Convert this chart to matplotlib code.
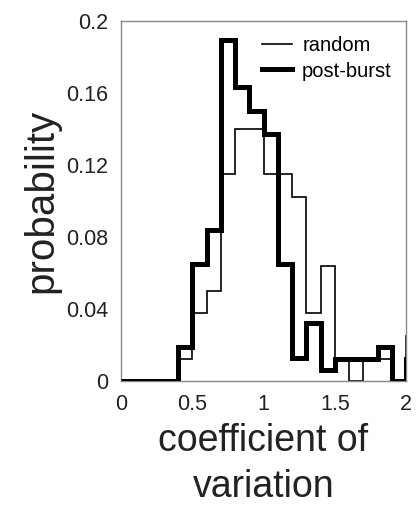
import numpy as np
import matplotlib.pyplot as plt

plt.rcParams['font.family'] = ['Liberation Sans', 'DejaVu Sans']

# bin edges of the CV histograms (last bin lies past the axis limit)
edges = np.round(np.arange(0, 2.11, 0.1), 2)

random_prob = [0, 0, 0, 0, 0.0125, 0.038, 0.050, 0.115, 0.140, 0.140,
               0.115, 0.115, 0.102, 0.038, 0.064, 0.012, 0, 0.012, 0.012, 0,
               0.025]
burst_prob = [0, 0, 0, 0, 0.019, 0.065, 0.084, 0.189, 0.163, 0.150,
              0.137, 0.065, 0.013, 0.032, 0.006, 0.0125, 0.0125, 0.0125, 0.019, 0,
              0.012]

xticks = [0, 0.5, 1, 1.5, 2]
xticklabels = ["0", "0.5", "1", "1.5", "2"]
yticks = [0, 0.04, 0.08, 0.12, 0.16, 0.2]
yticklabels = ["0", "0.04", "0.08", "0.12", "0.16", "0.2"]

fig = plt.figure(figsize=(4.19, 5.15), dpi=100)
ax = fig.add_axes([0.289, 0.260, 0.680, 0.700])

ax.stairs(random_prob, edges, color="black", linewidth=1.2, label="random", zorder=2)
ax.stairs(burst_prob, edges, color="black", linewidth=3.6, label="post-burst", zorder=3)

ax.set_xlim(0, 2)
ax.set_ylim(0, 0.2)
ax.set_xticks(xticks)
ax.set_xticklabels(xticklabels)
ax.set_yticks(yticks)
ax.set_yticklabels(yticklabels)
ax.tick_params(length=0, labelsize=15.5, colors="#222222", pad=9)

for sp in ax.spines.values():
    sp.set_color("#888888")
    sp.set_linewidth(1.0)

ax.set_xlabel("coefficient of\nvariation", fontsize=27, color="#222222",
              linespacing=1.35, labelpad=6)
ax.set_ylabel("probability", fontsize=29, color="#222222", labelpad=4)

ax.legend(loc="upper right", bbox_to_anchor=(1.0, 0.995), frameon=False,
          fontsize=14.5, handlelength=1.5, handletextpad=0.5,
          borderaxespad=0.3, labelspacing=0.3)

fig.savefig("out.png", dpi=100)
